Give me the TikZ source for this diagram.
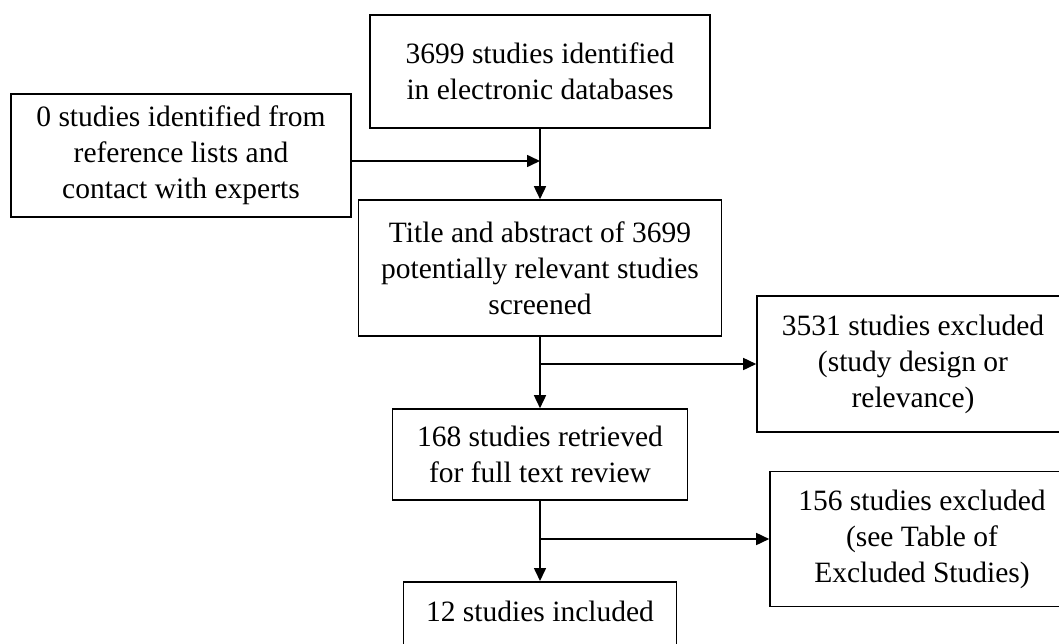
\documentclass[tikz,border=0pt]{standalone}
\usepackage{fontspec}
\setmainfont{Liberation Serif}
\usetikzlibrary{arrows.meta}

\tikzset{
    flowbox/.style={
        draw,
        line width=1.6pt,
        inner sep=0pt,
        align=center,
        font=\fontsize{29.5}{36}\selectfont
    },
    flowarrow/.style={
        -{Triangle[length=13pt,width=12pt]},
        line width=1.6pt
    }
}

\begin{document}
\begin{tikzpicture}[x=1pt, y=-1pt]

\useasboundingbox (0,0) rectangle (1059,644);
\clip (0,0) rectangle (1059,644);

% ---------------- IDENTIFICACIO ----------------

\node[
    flowbox,
    minimum width=340pt,
    minimum height=113pt
] (db) at (540,71.5) {3699 studies identified\\in electronic databases};

\node[
    flowbox,
    minimum width=340pt,
    minimum height=123pt
] (other) at (181,155.5) {0 studies identified from\\reference lists and\\contact with experts};

% ---------------- CRIBRATGE ----------------

\node[
    flowbox,
    minimum width=363pt,
    minimum height=136pt
] (screen) at (540,268) {Title and abstract of 3699\\potentially relevant studies\\screened};

\node[
    flowbox,
    minimum width=312pt,
    minimum height=136pt
] (excl1) at (913,364) {3531 studies excluded\\(study design or\\relevance)};

% ---------------- TEXT COMPLET ----------------

\node[
    flowbox,
    minimum width=295pt,
    minimum height=91pt
] (full) at (540,454.5) {168 studies retrieved\\for full text review};

\node[
    flowbox,
    minimum width=304pt,
    minimum height=135pt
] (excl2) at (922,539) {156 studies excluded\\(see Table of\\Excluded Studies)};

% ---------------- INCLOSOS ----------------

\node[
    flowbox,
    anchor=north,
    minimum width=273pt,
    inner ysep=20pt,
    text height=20pt,
    text depth=60pt
] (incl) at (540,581) {12 studies included};

% Punts d'unio
\coordinate (j1) at (540,161);
\coordinate (j2) at (540,364);
\coordinate (j3) at (540,539);

% Fletxes
\draw[flowarrow] (db) -- (screen);
\draw[flowarrow] (other.east |- j1) -- (j1);
\draw[flowarrow] (screen) -- (full);
\draw[flowarrow] (j2) -- (excl1.west);
\draw[flowarrow] (full) -- (incl);
\draw[flowarrow] (j3) -- (excl2.west);

\end{tikzpicture}
\end{document}
